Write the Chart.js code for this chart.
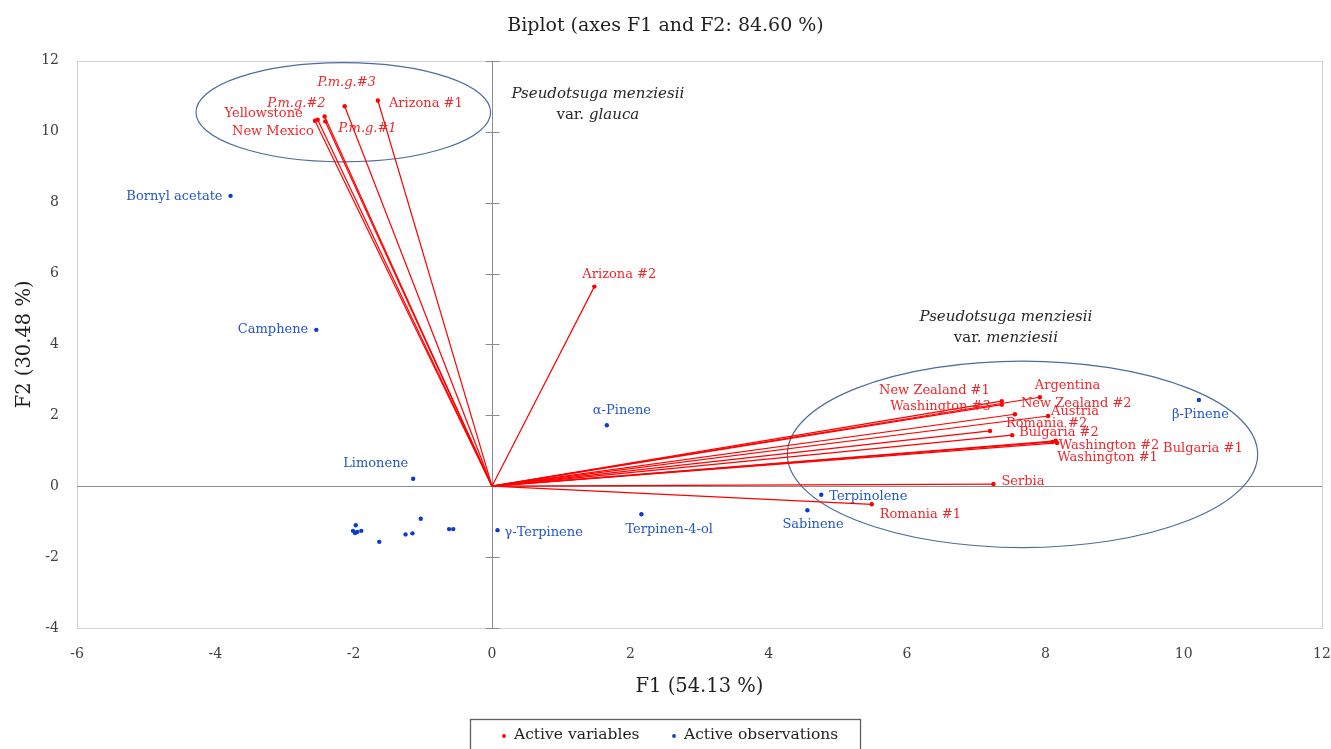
<!DOCTYPE html>
<html>
<head>
<meta charset="utf-8">
<title>Biplot (axes F1 and F2: 84.60 %)</title>
<script src="https://cdn.jsdelivr.net/npm/chart.js@4.4.0/dist/chart.umd.min.js"></script>
<style>
  html, body { margin: 0; padding: 0; background: #ffffff; }
  #wrap { width: 1331px; height: 749px; position: relative; }
  canvas { display: block; }
</style>
</head>
<body>
<div id="wrap"><canvas id="biplot" width="1331" height="749"></canvas></div>
<script>
// ---- Active variables (essential-oil samples), coordinates on F1 / F2 ----
const variableNames = [
  'Arizona #1', 'P.m.g.#3', 'P.m.g.#2', 'P.m.g.#1', 'Yellowstone', 'New Mexico',
  'Arizona #2',
  'New Zealand #1', 'Argentina', 'Washington #3', 'New Zealand #2', 'Austria',
  'Romania #2', 'Bulgaria #2', 'Washington #2', 'Washington #1', 'Bulgaria #1',
  'Serbia', 'Romania #1'
];
const variableF1 = [
  -1.65, -2.13, -2.42, -2.41, -2.52, -2.56,
  1.48,
  7.37, 7.92, 7.37, 7.56, 8.04,
  7.20, 7.52, 8.15, 8.10, 8.17,
  7.25, 5.49
];
const variableF2 = [
  10.88, 10.72, 10.43, 10.29, 10.34, 10.31,
  5.63,
  2.40, 2.51, 2.30, 2.03, 1.98,
  1.56, 1.44, 1.28, 1.25, 1.22,
  0.06, -0.51
];

// ---- Active observations (compounds); unnamed ones carry an empty label ----
const observationNames = [
  'Bornyl acetate', 'Camphene', 'α-Pinene', 'β-Pinene', 'Limonene',
  'Terpinolene', 'Sabinene', 'Terpinen-4-ol', 'γ-Terpinene',
  '', '', '', '', '', '', '', '', '', '', ''
];
const observationF1 = [
  -3.78, -2.54, 1.66, 10.22, -1.14,
  4.76, 4.56, 2.16, 0.08,
  -1.97, -2.01, -1.98, -1.95, -1.89, -1.63, -1.25, -1.15, -1.03, -0.62, -0.56
];
const observationF2 = [
  8.19, 4.41, 1.72, 2.43, 0.21,
  -0.24, -0.68, -0.79, -1.24,
  -1.10, -1.26, -1.32, -1.29, -1.26, -1.57, -1.36, -1.33, -0.92, -1.21, -1.21
];

// ---- Axis ticks ----
const f1Ticks = [-6, -4, -2, 0, 2, 4, 6, 8, 10, 12];
const f2Ticks = [-4, -2, 0, 2, 4, 6, 8, 10, 12];

// ---- Group outlines (in F1/F2 units) and their captions ----
const groupEllipses = [
  { cx: -2.15, cy: 10.55, rx: 2.13, ry: 1.40 },
  { cx: 7.67, cy: 0.90, rx: 3.40, ry: 2.63 }
];
const groupCaptions = [
  { x: 1.53, y: 11.07, species: 'Pseudotsuga menziesii', variety: 'glauca' },
  { x: 7.43, y: 4.77, species: 'Pseudotsuga menziesii', variety: 'menziesii' }
];

// ---- Styling ----
const RED = '#ff0000';
const RED_TEXT = '#f0262b';
const BLUE = '#0b3ccc';
const BLUE_TEXT = '#2457c5';
const SERIF = '"DejaVu Serif", "Liberation Serif", serif';

// label placement next to each point: [dx, dy, textAlign] in pixels
const labelPlacement = {
  'Arizona #1': [11, 3, 'left'],
  'P.m.g.#3': [2, -24, 'center'],
  'P.m.g.#2': [1, -13, 'right'],
  'Yellowstone': [-15, -6, 'right'],
  'New Mexico': [-1, 11, 'right'],
  'P.m.g.#1': [13, 7, 'left'],
  'Arizona #2': [-12, -12, 'left'],
  'New Zealand #1': [-12, -10, 'right'],
  'Argentina': [-5, -12, 'left'],
  'Washington #3': [-11, 2, 'right'],
  'New Zealand #2': [6, -11, 'left'],
  'Austria': [3, -4, 'left'],
  'Romania #2': [16, -7, 'left'],
  'Bulgaria #2': [7, -3, 'left'],
  'Washington #2': [3, 5, 'left'],
  'Washington #1': [5, 16, 'left'],
  'Bulgaria #1': [106, 6, 'left'],
  'Serbia': [8, -2, 'left'],
  'Romania #1': [8, 10, 'left'],
  'Bornyl acetate': [-8, 1, 'right'],
  'Camphene': [-8, 0, 'right'],
  'α-Pinene': [-14, -15, 'left'],
  'β-Pinene': [-27, 15, 'left'],
  'Limonene': [-70, -15, 'left'],
  'Terpinolene': [8, 2, 'left'],
  'Sabinene': [-25, 14, 'left'],
  'Terpinen-4-ol': [-16, 15, 'left'],
  'γ-Terpinene': [7, 2, 'left']
};
const italicLabels = new Set(['P.m.g.#1', 'P.m.g.#2', 'P.m.g.#3']);

// ---- Datasets: one vector per variable, one point cloud for observations ----
const datasets = variableNames.map((name, i) => ({
  label: name,
  kind: 'variable',
  data: [{ x: 0, y: 0 }, { x: variableF1[i], y: variableF2[i] }],
  showLine: true,
  borderColor: RED,
  borderWidth: 1.2,
  pointRadius: [0, 2.2],
  pointHoverRadius: [0, 2.2],
  pointBackgroundColor: RED,
  pointBorderWidth: 0
}));
datasets.push({
  label: 'Active observations',
  kind: 'observation',
  data: observationF1.map((x, i) => ({ x: x, y: observationF2[i] })),
  showLine: false,
  pointRadius: 2.2,
  pointHoverRadius: 2.2,
  pointBackgroundColor: BLUE,
  pointBorderWidth: 0
});

// ---- Plot decorations: frame, axes through the origin, outlines, labels, legend ----
const biplotDecor = {
  id: 'biplotDecor',
  beforeDatasetsDraw(chart) {
    const { ctx, chartArea: a, scales: { x, y } } = chart;
    ctx.save();
    // frame
    ctx.strokeStyle = '#d4d4d4';
    ctx.lineWidth = 1;
    ctx.strokeRect(Math.round(a.left) + 0.5, Math.round(a.top) + 0.5,
                   Math.round(a.right - a.left), Math.round(a.bottom - a.top));
    // axes through the origin
    const x0 = Math.round(x.getPixelForValue(0)) + 0.5;
    const y0 = Math.round(y.getPixelForValue(0)) + 0.5;
    ctx.strokeStyle = '#8c8c8c';
    ctx.beginPath();
    ctx.moveTo(x0, a.top); ctx.lineTo(x0, a.bottom);
    ctx.moveTo(a.left, y0); ctx.lineTo(a.right, y0);
    // crossing tick marks on the vertical axis
    f2Ticks.forEach(v => {
      const py = Math.round(y.getPixelForValue(v)) + 0.5;
      ctx.moveTo(x0 - 7, py); ctx.lineTo(x0 + 7, py);
    });
    ctx.stroke();
    // group outlines
    ctx.strokeStyle = '#4b6d9c';
    ctx.lineWidth = 1.2;
    groupEllipses.forEach(e => {
      const cx = x.getPixelForValue(e.cx);
      const cy = y.getPixelForValue(e.cy);
      const rx = Math.abs(x.getPixelForValue(e.cx + e.rx) - cx);
      const ry = Math.abs(y.getPixelForValue(e.cy + e.ry) - cy);
      ctx.beginPath();
      ctx.ellipse(cx, cy, rx, ry, 0, 0, Math.PI * 2);
      ctx.stroke();
    });
    ctx.restore();
  },
  afterDatasetsDraw(chart) {
    const { ctx, scales: { x, y } } = chart;
    ctx.save();
    ctx.textBaseline = 'middle';
    // point labels
    chart.data.datasets.forEach(ds => {
      const isVar = ds.kind === 'variable';
      ds.data.forEach((p, j) => {
        const name = isVar ? (j === 1 ? ds.label : '') : observationNames[j];
        if (!name) return;
        const place = labelPlacement[name] || [6, 0, 'left'];
        const px = x.getPixelForValue(p.x);
        const py = y.getPixelForValue(p.y);
        ctx.font = (italicLabels.has(name) ? 'italic ' : '') + '13px ' + SERIF;
        ctx.fillStyle = isVar ? RED_TEXT : BLUE_TEXT;
        ctx.textAlign = place[2];
        ctx.fillText(name, px + place[0], py + place[1]);
      });
    });
    // group captions
    ctx.fillStyle = '#262626';
    const capSize = '15px ';
    groupCaptions.forEach(c => {
      const cx = x.getPixelForValue(c.x);
      const cy = y.getPixelForValue(c.y);
      ctx.textAlign = 'center';
      ctx.font = 'italic ' + capSize + SERIF;
      ctx.fillText(c.species, cx, cy);
      const prefix = 'var. ';
      ctx.font = capSize + SERIF;
      const w1 = ctx.measureText(prefix).width;
      ctx.font = 'italic ' + capSize + SERIF;
      const w2 = ctx.measureText(c.variety).width;
      const left = cx - (w1 + w2) / 2;
      ctx.textAlign = 'left';
      ctx.font = capSize + SERIF;
      ctx.fillText(prefix, left, cy + 21);
      ctx.font = 'italic ' + capSize + SERIF;
      ctx.fillText(c.variety, left + w1, cy + 21);
    });
    ctx.restore();
  },
  afterDraw(chart) {
    const { ctx } = chart;
    ctx.save();
    // legend box
    ctx.strokeStyle = '#5f5f5f';
    ctx.lineWidth = 1.3;
    ctx.strokeRect(470.5, 719.5, 390, 40);
    const items = [
      { text: 'Active variables', color: RED, x: 504 },
      { text: 'Active observations', color: BLUE, x: 674 }
    ];
    ctx.font = '15.5px ' + SERIF;
    ctx.textBaseline = 'middle';
    ctx.textAlign = 'left';
    items.forEach(it => {
      ctx.fillStyle = it.color;
      ctx.beginPath();
      ctx.arc(it.x, 736, 1.9, 0, Math.PI * 2);
      ctx.fill();
      ctx.fillStyle = '#1f1f1f';
      ctx.fillText(it.text, it.x + 10, 735);
    });
    ctx.restore();
  }
};

const tickFont = { family: SERIF, size: 14 };
const titleFont = { family: SERIF, size: 19.5 };

new Chart(document.getElementById('biplot'), {
  type: 'scatter',
  data: { datasets: datasets },
  options: {
    responsive: false,
    devicePixelRatio: 1,
    animation: false,
    events: [],
    layout: { padding: { top: 0, left: 0, right: 0, bottom: 0 } },
    plugins: {
      legend: { display: false },
      tooltip: { enabled: false },
      title: {
        display: true,
        text: 'Biplot (axes F1 and F2: 84.60 %)',
        color: '#1f1f1f',
        font: { family: SERIF, size: 19, weight: 'normal' },
        padding: { top: 15, bottom: 23 }
      }
    },
    scales: {
      x: {
        type: 'linear',
        min: -6,
        max: 12,
        afterBuildTicks: s => { s.ticks = f1Ticks.map(v => ({ value: v })); },
        afterFit: s => { s.height = 121; s.paddingRight = 9; s.paddingLeft = 7; },
        grid: { display: false, drawTicks: false, tickLength: 0 },
        border: { display: false },
        ticks: { padding: 18, color: '#404040', font: tickFont, maxRotation: 0 },
        title: {
          display: true, text: 'F1 (54.13 %)', color: '#1f1f1f',
          font: titleFont, padding: { top: 0, bottom: 50 }
        }
      },
      y: {
        type: 'linear',
        min: -4,
        max: 12,
        afterBuildTicks: s => { s.ticks = f2Ticks.map(v => ({ value: v })); },
        afterFit: s => { s.width = 77; },
        grid: { display: false, drawTicks: false, tickLength: 0 },
        border: { display: false },
        ticks: { padding: 18, color: '#404040', font: tickFont },
        title: {
          display: true, text: 'F2 (30.48 %)', color: '#1f1f1f',
          font: titleFont, padding: { top: 13, bottom: 0 }
        }
      }
    }
  },
  plugins: [biplotDecor]
});
</script>
</body>
</html>
